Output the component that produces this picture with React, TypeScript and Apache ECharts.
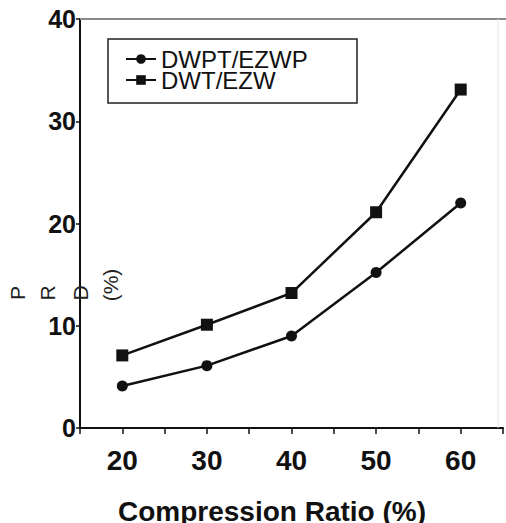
import React, { useEffect, useRef } from "react";
import * as echarts from "echarts";

const xValues = [20, 30, 40, 50, 60];
const dwptEzwp = [4.1, 6.1, 9.0, 15.2, 22.0];
const dwtEzw = [7.1, 10.1, 13.2, 21.1, 33.1];
const seriesNames = ["DWPT/EZWP", "DWT/EZW"];
const yTitleParts = ["P", "R", "D", "(%)"];
const xTitle = "Compression Ratio (%)";

const FONT = "Liberation Sans, Arial, sans-serif";

export default function App() {
  const ref = useRef<HTMLDivElement>(null);
  useEffect(() => {
    if (!ref.current) return;
    const chart = echarts.init(ref.current, null, { renderer: "svg" });
    const pairs = (ys: number[]) => xValues.map((x, i) => [x, ys[i]]);
    const yPartX = [17, 47, 80, 110];
    const yPartY = [293, 293, 293, 285];
    chart.setOption({
      animation: false,
      backgroundColor: "#ffffff",
      grid: { left: 80, top: 19, right: 0, bottom: 95, containLabel: false },
      xAxis: {
        type: "value",
        min: 15,
        max: 65,
        interval: 5,
        splitLine: { show: false },
        axisLine: { lineStyle: { color: "#111", width: 2 } },
        axisTick: { show: true, length: 6, lineStyle: { color: "#111", width: 1.5 } },
        axisLabel: {
          margin: 18,
          fontSize: 28,
          fontWeight: "bold",
          color: "#111",
          fontFamily: FONT,
          formatter: (v: number) => (v % 10 === 0 && v >= 20 && v <= 60 ? String(v) : ""),
        },
      },
      yAxis: {
        type: "value",
        min: 0,
        max: 40,
        interval: 10,
        splitLine: { show: false },
        axisLine: { show: true, lineStyle: { color: "#111", width: 2 } },
        axisTick: { show: true, length: 4, lineStyle: { color: "#111", width: 1.5 } },
        axisLabel: {
          margin: 4,
          fontSize: 25,
          fontWeight: "bold",
          color: "#111",
          fontFamily: FONT,
        },
      },
      legend: {
        show: true,
        orient: "vertical",
        left: 125,
        top: 47,
        padding: 0,
        itemGap: -3,
        itemWidth: 30,
        itemHeight: 12,
        data: seriesNames,
        textStyle: { fontSize: 24, lineHeight: 22, color: "#111", fontFamily: FONT },
      },
      series: [
        {
          name: seriesNames[0],
          type: "line",
          data: pairs(dwptEzwp),
          symbol: "circle",
          symbolSize: 11,
          lineStyle: { color: "#111", width: 2.5 },
          itemStyle: { color: "#111" },
        },
        {
          name: seriesNames[1],
          type: "line",
          data: pairs(dwtEzw),
          symbol: "rect",
          symbolSize: 12,
          lineStyle: { color: "#111", width: 2.5 },
          itemStyle: { color: "#111" },
        },
      ],
      graphic: [
        {
          type: "line",
          z: 1,
          shape: { x1: 80, y1: 19, x2: 506, y2: 19 },
          style: { stroke: "#888", lineWidth: 2 },
        },
        {
          type: "line",
          z: 1,
          shape: { x1: 498, y1: 19, x2: 498, y2: 428 },
          style: { stroke: "#e6e6e6", lineWidth: 1 },
        },
        {
          type: "rect",
          z: 1,
          shape: { x: 108, y: 39, width: 249, height: 64 },
          style: { fill: "none", stroke: "#222", lineWidth: 1.5 },
        },
        ...yTitleParts.map((t, i) => ({
          type: "text",
          z: 10,
          x: yPartX[i],
          y: yPartY[i],
          rotation: Math.PI / 2,
          style: {
            text: t,
            fontSize: 21,
            fontFamily: FONT,
            fill: "#222",
            align: "center",
            verticalAlign: "middle",
          },
        })),
        {
          type: "text",
          z: 10,
          x: 272,
          y: 511,
          style: {
            text: xTitle,
            fontSize: 28,
            fontWeight: "bold",
            fontFamily: FONT,
            fill: "#111",
            align: "center",
            verticalAlign: "middle",
          },
        },
      ],
    });
    return () => chart.dispose();
  }, []);
  return (
    <div
      ref={ref}
      style={{ position: "absolute", left: 0, top: 0, width: 506, height: 523, background: "#fff" }}
    />
  );
}
